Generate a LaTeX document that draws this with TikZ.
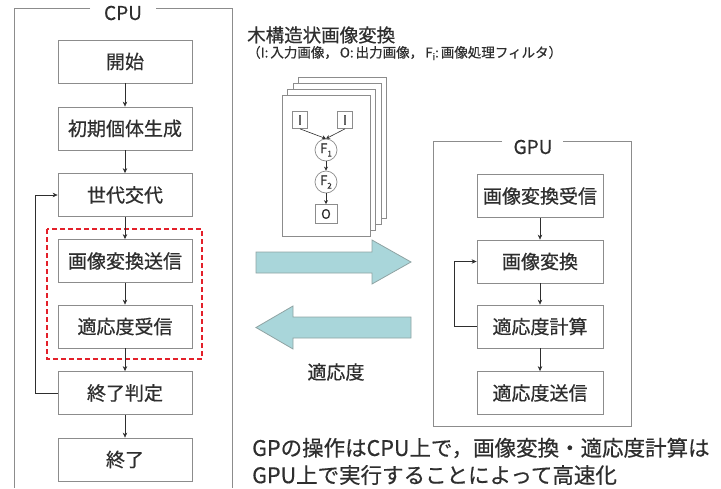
\documentclass[tikz,border=0pt]{standalone}
\usepackage{fontspec}
\setmainfont{Noto Sans CJK JP}[FakeBold=0.5]
\usetikzlibrary{arrows.meta}
\definecolor{boxgray}{HTML}{8C8C8C}
\definecolor{txt}{HTML}{2E2E2E}
\definecolor{bigfill}{HTML}{A9D6DA}
\definecolor{bigline}{HTML}{8FA3A3}
\definecolor{redd}{HTML}{E3202A}
\begin{document}
\begin{tikzpicture}[x=1pt,y=-1pt,
  box/.style={draw=boxgray, line width=0.8pt, fill=white, minimum width=134pt, minimum height=43pt, inner sep=0pt, font=\fontsize{19}{22}\selectfont, text=txt},
  gbox/.style={box, minimum width=126pt},
  frame/.style={draw=boxgray, line width=0.8pt},
  flow/.style={-{Stealth[length=5pt,width=4.5pt]}, draw=txt, line width=0.6pt},
  tflow/.style={-{Stealth[length=4pt,width=4pt]}, draw=txt, line width=0.6pt},
  page/.style={draw=boxgray, line width=0.7pt, fill=white},
  tsq/.style={draw=boxgray, line width=0.7pt, fill=white, inner sep=0pt, text=txt, font=\fontsize{13}{14}\selectfont},
  tcirc/.style={draw=boxgray, line width=0.7pt, fill=white, circle, inner sep=0pt, minimum size=22pt, text=txt, font=\fontsize{13}{14}\selectfont},
  lbl/.style={text=txt, inner sep=0pt},
  bigarrow/.style={fill=bigfill, draw=bigline, line width=0.8pt, line join=miter}
]
\useasboundingbox (0,0) rectangle (721,488);

% CPU frame
\draw[frame] (90,8) -- (14,8) -- (14,488);
\draw[frame] (156,8) -- (232,8) -- (232,488);
\node[lbl, font=\fontsize{19}{22}\selectfont] (cpu) at (123,13) {CPU};

% CPU boxes
\node[box] (start) at (125,61.5) {開始};
\node[box] (init) at (125,128.5) {初期個体生成};
\node[box] (gen) at (125,195) {世代交代};
\draw[redd, dashed, dash pattern=on 5pt off 3pt, line width=1.4pt] (47,229) rectangle (202,359);
\node[box] (send) at (125,261) {画像変換送信};
\node[box] (recv) at (125,326.5) {適応度受信};
\node[box] (judge) at (125,393) {終了判定};
\node[box] (fin) at (125,459.5) {終了};

\draw[flow] (start) -- (init);
\draw[flow] (init) -- (gen);
\draw[flow] (gen) -- (send);
\draw[flow] (send) -- (recv);
\draw[flow] (recv) -- (judge);
\draw[flow] (judge) -- (fin);
\draw[flow] (judge.west) -- ++(-22,0) |- (gen.west);

% GPU frame
\draw[frame] (502,141) -- (433,141) -- (433,426) -- (631,426) -- (631,141) -- (563,141);
\node[lbl, font=\fontsize{19}{22}\selectfont] (gpu) at (533,147) {GPU};

\node[gbox] (grecv) at (540,196) {画像変換受信};
\node[gbox] (conv) at (540,261.5) {画像変換};
\node[gbox] (calc) at (540,326.5) {適応度計算};
\node[gbox] (gsend) at (540,393) {適応度送信};
\draw[flow] (grecv) -- (conv);
\draw[flow] (conv) -- (calc);
\draw[flow] (calc) -- (gsend);
\draw[flow] (calc.west) -- ++(-22,0) |- (conv.west);

% Title
\node[lbl, anchor=west, font=\fontsize{18.5}{20}\selectfont] (title) at (247,35) {木構造状画像変換};
\node[lbl, anchor=west, font=\fontsize{13.5}{15}\selectfont] (sub) at (247,53) {（I:\hspace{2pt}入力画像，\hspace{2pt}O:\hspace{2pt}出力画像，\hspace{2pt}F\raisebox{-0.35ex}{\fontsize{9}{9}\selectfont i}:\hspace{2pt}画像処理フィルタ）};

% Tree pages
\draw[page] (298,77) rectangle (386,218);
\draw[page] (293,83) rectangle (381,224);
\draw[page] (287,89) rectangle (375,230);
\draw[page] (282,95) rectangle (370,236);
\node[tsq, minimum width=15pt, minimum height=17pt] (i1) at (300,120) {I};
\node[tsq, minimum width=15pt, minimum height=17pt] (i2) at (345,120) {I};
\node[tcirc] (f1) at (326,150) {F\raisebox{-0.5ex}{\fontsize{8}{8}\selectfont 1}};
\node[tcirc] (f2) at (326,182) {F\raisebox{-0.5ex}{\fontsize{8}{8}\selectfont 2}};
\node[tsq, minimum width=22pt, minimum height=19pt] (o) at (326,214) {O};
\draw[tflow] (i1.south) -- (f1.north);
\draw[tflow] (i2.south) -- (f1.north);
\draw[tflow] (f1) -- (f2);
\draw[tflow] (f2) -- (o);

% Big arrows
\draw[bigarrow] (256,252) -- (372,252) -- (372,240) -- (411,262) -- (372,284) -- (372,273) -- (256,273) -- cycle;
\draw[bigarrow] (411,317) -- (293,317) -- (293,306) -- (256,327.5) -- (293,349) -- (293,338) -- (411,338) -- cycle;
\node[lbl, font=\fontsize{19}{22}\selectfont] (fit) at (336,372) {適応度};

% Bottom text
\node[lbl, anchor=west, font=\fontsize{21.5}{27}\selectfont] (n1) at (252,448) {GPの操作はCPU上で，画像変換・適応度計算は};
\node[lbl, anchor=west, font=\fontsize{21.5}{27}\selectfont] (n2) at (252,475) {GPU上で実行することによって高速化};
\end{tikzpicture}
\end{document}
